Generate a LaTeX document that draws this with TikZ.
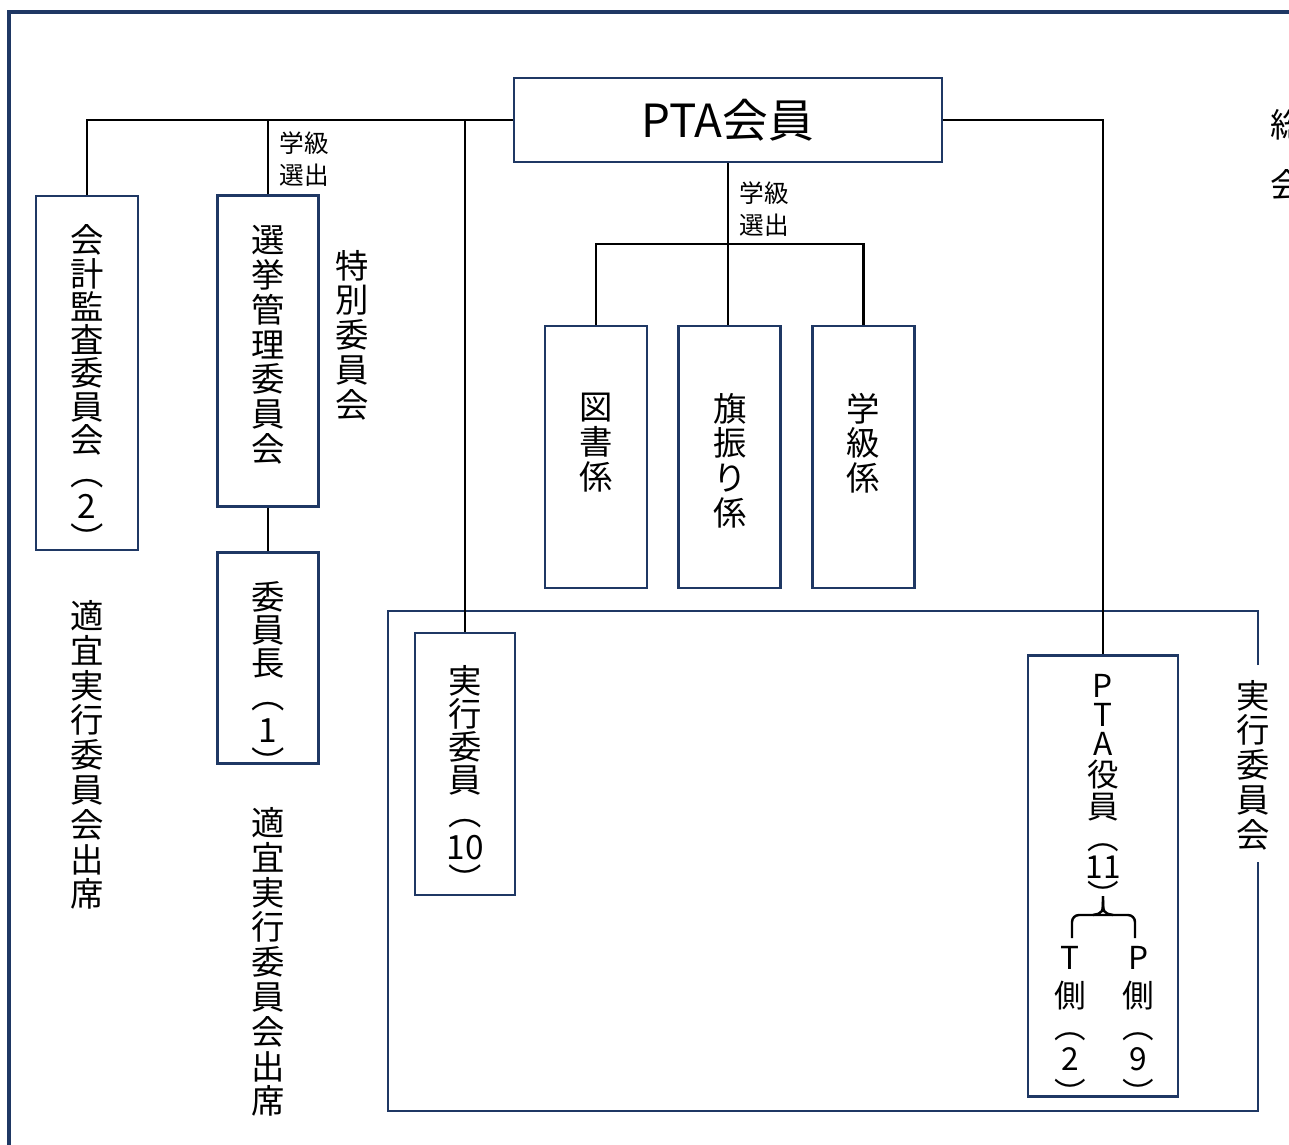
\documentclass[tikz,border=0pt]{standalone}
\usepackage{fontspec}
\setmainfont{Noto Sans CJK JP}
\usetikzlibrary{positioning, calc}

\definecolor{navyline}{HTML}{1F3864}

\begin{document}
\begin{tikzpicture}[
    x=0.02cm, y=-0.02cm,
    box/.style={rectangle, draw=navyline, line width=1.6pt, fill=white, minimum width=2.04cm, inner sep=0pt},
    vtext/.style={align=center, inner sep=0pt, font=\fontsize{19}{19.8}\selectfont},
    tight/.style={font=\fontsize{19}{18.9}\selectfont},
    note/.style={align=left, inner sep=0pt, font=\fontsize{14}{18}\selectfont},
    link/.style={draw=black, line width=1.4pt}
]
    \useasboundingbox (0,0) rectangle (1289,1145);
    \clip (0,0) rectangle (1289,1145);

    % outer frame and the frame of the executive committee
    \draw[navyline, line width=1.8pt] (9,1160) -- (9,12) -- (1300,12);
    \draw[navyline, line width=1.6pt] (1258,665) -- (1258,611) -- (388,611) -- (388,1111) -- (1258,1111) -- (1258,862);
    \node[vtext] (jikkokai) at (1253,765) {実\\行\\委\\員\\会};
    \node[vtext, font=\fontsize{19}{34}\selectfont] (soukai) at (1287,155) {総\\会};

    \node[box, minimum width=8.56cm, minimum height=1.68cm, font=\fontsize{26}{28}\selectfont] (pta) at (728,120) {PTA会員};

    % left column
    \node[box, minimum height=7.08cm] (kaikei) at (87,373) {};
    \node[vtext, tight, below=0.6cm of kaikei.north] (kaikeitxt) {会\\計\\監\\査\\委\\員\\会\\︵\\2\\︶};
    \node[box, minimum width=2.02cm, minimum height=6.22cm] (senkyo) at (268,351) {};
    \node[vtext, below=0.62cm of senkyo.north] (senkyotxt) {選\\挙\\管\\理\\委\\員\\会};
    \node[box, minimum width=2.02cm, minimum height=4.22cm, below=0.86cm of senkyo] (iincho) {};
    \node[vtext, tight, below=0.6cm of iincho.north] (iinchotxt) {委\\員\\長\\︵\\1\\︶};
    \node[vtext] (tokubetsu) at (352,335) {特\\別\\委\\員\\会};
    \node[vtext] (tekigiA) at (87,755) {適\\宜\\実\\行\\委\\員\\会\\出\\席};
    \node[vtext] (tekigiB) at (268,962) {適\\宜\\実\\行\\委\\員\\会\\出\\席};

    % the three sections
    \node[box, minimum height=5.24cm] (tosho) at (596,457) {};
    \node[box, minimum height=5.24cm, right=0.58cm of tosho] (hata) {};
    \node[box, minimum height=5.24cm, right=0.58cm of hata] (gakkyu) {};
    \node[vtext, below=1.36cm of tosho.north] (toshotxt) {図\\書\\係};
    \node[vtext, below=1.36cm of hata.north] (hatatxt) {旗\\振\\り\\係};
    \node[vtext, below=1.36cm of gakkyu.north] (gakkyutxt) {学\\級\\係};

    % executive committee
    \node[box, minimum width=2cm, minimum height=5.24cm] (jikko) at (465,764) {};
    \node[vtext, tight, below=0.66cm of jikko.north] (jikkotxt) {実\\行\\委\\員\\︵\\10\\︶};

    \node[box, minimum width=3cm, minimum height=8.82cm] (yakuin) at (1103,876) {};
    \node[vtext, font=\fontsize{18}{16.5}\selectfont, below=0.4cm of yakuin.north] (yakuinlbl) {P\\T\\A\\[1pt]役\\[2pt]員\\[1pt]︵\\11\\︶};
    \node[vtext, font=\fontsize{18}{17.5}\selectfont] (tside) at (1070,1026) {T\\[4pt]側\\︵\\[1pt]2\\[2pt]︶};
    \node[vtext, font=\fontsize{18}{17.5}\selectfont] (pside) at (1138,1026) {P\\[4pt]側\\︵\\[1pt]9\\[2pt]︶};

    % small labels
    \node[note] (senshutsuA) at (304,159) {学級\\選出};
    \node[note] (senshutsuB) at (764,209) {学級\\選出};

    % connectors
    \draw[link] (pta.west) -| (kaikei.north);
    \draw[link] (senkyo.north) -- (senkyo.north |- pta.west);
    \draw[link] (jikko.north) -- (jikko.north |- pta.west);
    \draw[link] (pta.east) -| (yakuin.north);
    \draw[link] (senkyo.south) -- (iincho.north);
    \coordinate (split) at (728,244);
    \draw[link] (pta.south) -- (pta.south |- hata.north);
    \draw[link] (tosho.north) |- (split) -| (gakkyu.north);

    % brace under the officers
    \coordinate (bracetop) at (1103,896);
    \coordinate (braceL) at (1072,938);
    \coordinate (braceR) at (1135,938);
    \draw[link, rounded corners=4pt] (braceL) -- (braceL |- 0,915) -- (braceR |- 0,915) -- (braceR);
    \draw[link] (bracetop) .. controls (1103,913) .. (1093,915);
    \draw[link] (bracetop) .. controls (1103,913) .. (1113,915);
\end{tikzpicture}
\end{document}
